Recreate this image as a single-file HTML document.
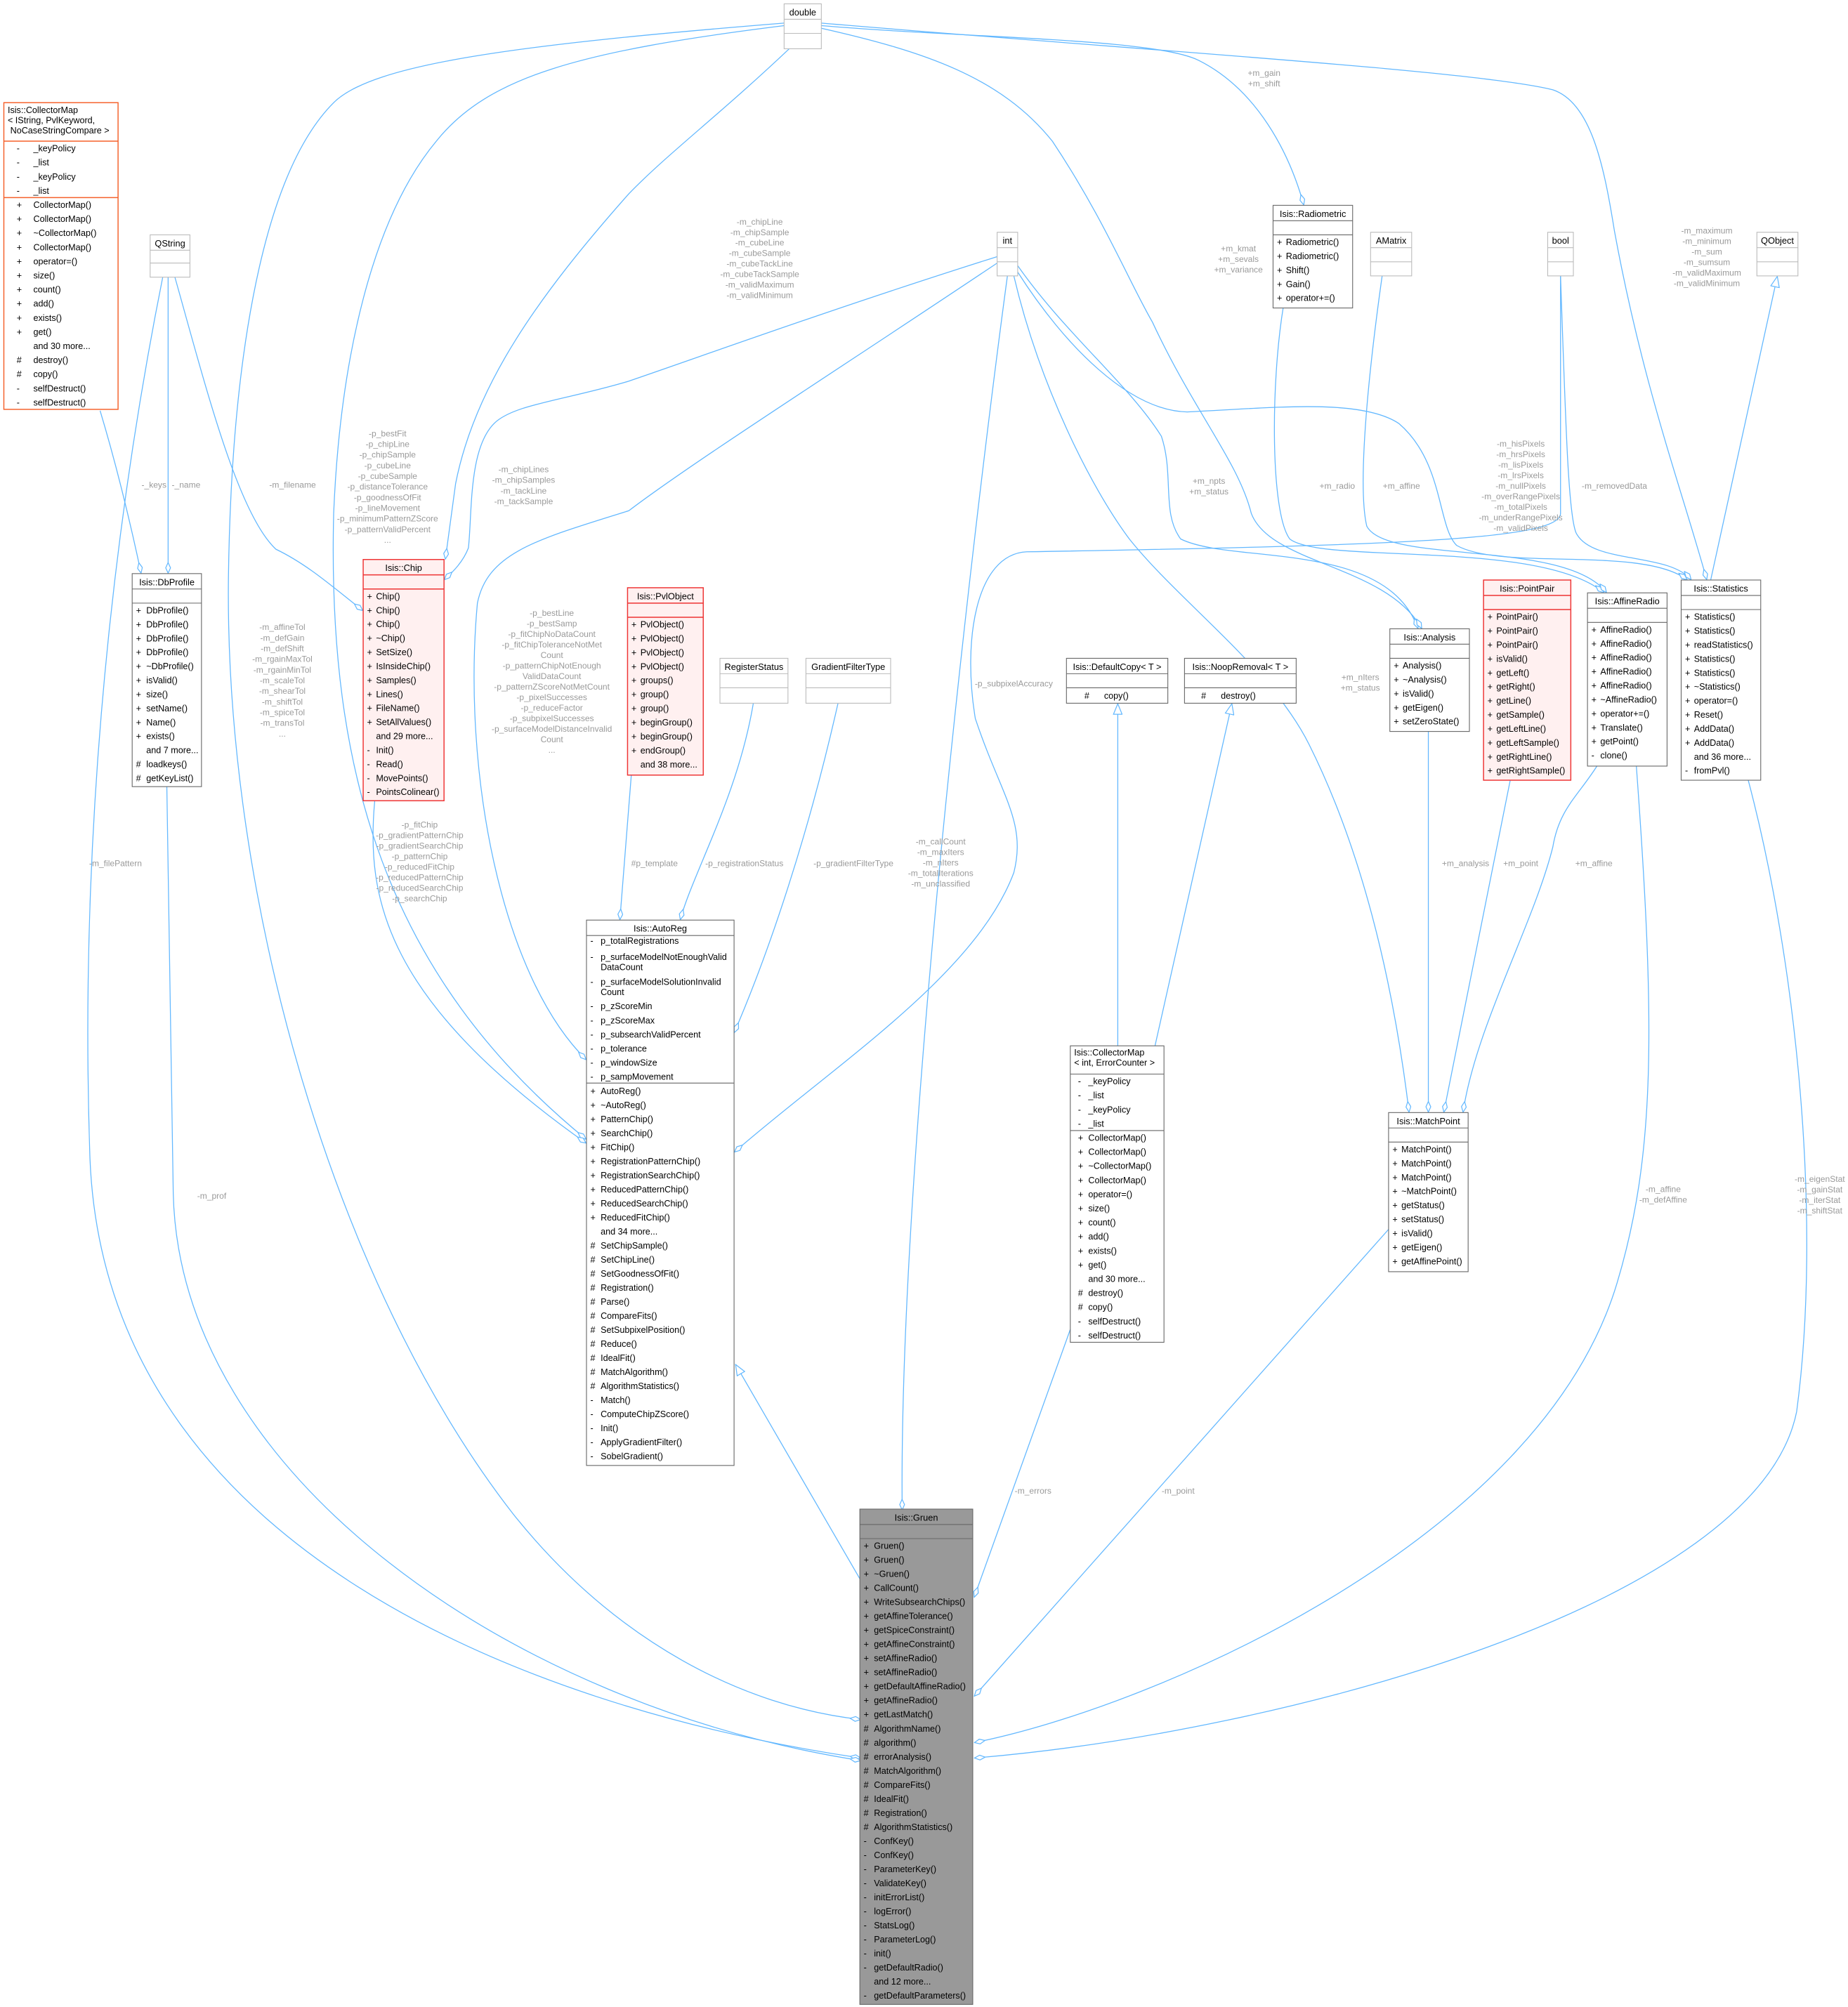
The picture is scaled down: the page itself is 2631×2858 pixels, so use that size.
<!DOCTYPE html>
<html><head><meta charset="utf-8"><style>
html,body{margin:0;padding:0;background:#fff;}
svg{display:block;}
text{font-family:"Liberation Sans",Arial,sans-serif;}
.t{font-size:7px;fill:#000;text-anchor:middle;}
.m{font-size:6.9px;fill:#000;}
.l{font-size:6.6px;fill:#9a9a9a;text-anchor:middle;}
.e{fill:none;stroke:#63b8ff;stroke-width:0.7;}
.b{fill:#fff;stroke:#666;stroke-width:0.6;}
.p{fill:#fff;stroke:#bbb;stroke-width:0.6;}
.r{fill:#fff0f0;stroke:#e33;stroke-width:0.8;}
.o{fill:#fff;stroke:#f5602a;stroke-width:0.8;}
.g{fill:#999;stroke:#666;stroke-width:0.6;}
.s{stroke:#666;stroke-width:0.6;}
.sp{stroke:#bbb;stroke-width:0.6;}
.sr{stroke:#e33;stroke-width:0.8;}
.so{stroke:#f5602a;stroke-width:0.8;}
</style></head><body>
<svg width="2631" height="2858" viewBox="0 0 1440 1564" preserveAspectRatio="none" xmlns="http://www.w3.org/2000/svg">
<defs>
<marker id="d" viewBox="0 0 12 6" refX="12" refY="3" markerWidth="9" markerHeight="4.5" orient="auto" markerUnits="userSpaceOnUse"><path d="M0.5,3 L6,0.5 L11.5,3 L6,5.5 Z" fill="#fff" stroke="#63b8ff" stroke-width="0.9"/></marker>
<marker id="a" viewBox="0 0 12 10" refX="12" refY="5" markerWidth="9" markerHeight="7.5" orient="auto" markerUnits="userSpaceOnUse"><path d="M0.5,0.5 L11.5,5 L0.5,9.5 Z" fill="#fff" stroke="#63b8ff" stroke-width="0.9"/></marker>
</defs>

<!-- edges -->
<g class="e">
<path d="M78,320 C90,360 100,400 110,447" marker-end="url(#d)"/>
<path d="M131,215 L131,447" marker-end="url(#d)"/>
<path d="M136,215 C160,300 185,400 215,428 C240,440 260,458 283,476" marker-end="url(#d)"/>
<path d="M127,215 C100,350 60,600 70,900 C80,1200 400,1330 671,1370" marker-end="url(#d)"/>
<path d="M130,613 L135,930 C140,1150 400,1330 671,1372" marker-end="url(#d)"/>
<path d="M611,18 C400,35 290,50 260,80 C200,140 180,300 178,450 C175,700 260,1000 400,1180 C480,1280 580,1330 671,1340" marker-end="url(#d)"/>
<path d="M611,20 C450,40 380,60 340,110 C290,170 265,280 260,400 C255,600 300,760 457,888" marker-end="url(#d)"/>
<path d="M615,38 C560,90 520,120 490,151 C420,230 370,300 355,377 L347,436" marker-end="url(#d)"/>
<path d="M777,200 C650,240 540,280 490,297 C440,312 400,315 385,330 C365,350 368,400 365,427 C360,440 350,448 346,452" marker-end="url(#d)"/>
<path d="M777,205 C650,290 540,360 490,398 C420,420 380,430 372,470 C360,600 390,760 457,826" marker-end="url(#d)"/>
<path d="M292,624 C285,700 300,780 457,891" marker-end="url(#d)"/>
<path d="M492,603 L483,717" marker-end="url(#d)"/>
<path d="M587,548 C575,620 540,680 530,717" marker-end="url(#d)"/>
<path d="M653,548 C630,650 600,740 572,805" marker-end="url(#d)"/>
<path d="M1216,215 L1216,400 C1216,420 1100,425 800,430 C760,432 750,500 760,560 C780,620 800,640 790,680 C760,760 650,830 572,898" marker-end="url(#d)"/>
<path d="M671,1232 L573,1063" marker-end="url(#a)"/>
<path d="M785,215 C760,400 700,900 703,1177" marker-end="url(#d)"/>
<path d="M834,1036 L759,1245" marker-end="url(#d)"/>
<path d="M1082,958 L759,1322" marker-end="url(#d)"/>
<path d="M1275,596 C1290,800 1290,900 1260,1000 C1200,1200 900,1330 759,1358" marker-end="url(#d)"/>
<path d="M1362,607 C1400,750 1420,950 1400,1100 C1370,1250 1000,1350 759,1370" marker-end="url(#d)"/>
<path d="M871,815 L871,548" marker-end="url(#a)"/>
<path d="M900,815 L960,548" marker-end="url(#a)"/>
<path d="M1113,569 L1113,867" marker-end="url(#d)"/>
<path d="M1177,607 L1125,867" marker-end="url(#d)"/>
<path d="M1245,596 C1230,620 1215,630 1210,660 C1195,720 1150,800 1140,867" marker-end="url(#d)"/>
<path d="M790,215 C810,300 850,380 880,420 C920,470 990,520 1020,580 C1060,660 1085,760 1098,867" marker-end="url(#d)"/>
<path d="M793,207 C830,260 880,300 905,340 C915,370 905,400 920,420 C960,440 1080,420 1105,490" marker-end="url(#d)"/>
<path d="M640,22 C720,40 780,60 820,110 C860,170 880,220 898,251 C930,320 965,360 975,400 C990,440 1080,440 1108,490" marker-end="url(#d)"/>
<path d="M640,20 C760,30 900,30 934,47 C980,70 1005,120 1016,160" marker-end="url(#d)"/>
<path d="M1000,239 C990,300 990,400 1005,420 C1030,440 1200,420 1250,462" marker-end="url(#d)"/>
<path d="M1077,215 C1065,300 1058,380 1065,410 C1080,440 1220,420 1252,462" marker-end="url(#d)"/>
<path d="M793,212 C830,270 880,320 925,321 C990,318 1060,310 1090,330 C1125,360 1120,410 1135,425 C1170,445 1280,425 1315,452" marker-end="url(#d)"/>
<path d="M1216,215 C1220,330 1222,400 1228,415 C1240,440 1300,430 1318,452" marker-end="url(#d)"/>
<path d="M640,18 C900,40 1150,55 1210,70 C1240,80 1250,130 1258,180 C1280,300 1310,380 1330,452" marker-end="url(#d)"/>
<path d="M1333,452 L1385,215" marker-end="url(#a)"/>
</g>

<!-- edge labels -->
<g class="l">
<text x="120" y="380">-_keys</text>
<text x="145" y="380">-_name</text>
<text x="228" y="380">-m_filename</text>
<text x="90" y="675">-m_filePattern</text>
<text x="165" y="934">-m_prof</text>
<text x="220" y="491"><tspan x="220">-m_affineTol</tspan><tspan x="220" dy="8.3">-m_defGain</tspan><tspan x="220" dy="8.3">-m_defShift</tspan><tspan x="220" dy="8.3">-m_rgainMaxTol</tspan><tspan x="220" dy="8.3">-m_rgainMinTol</tspan><tspan x="220" dy="8.3">-m_scaleTol</tspan><tspan x="220" dy="8.3">-m_shearTol</tspan><tspan x="220" dy="8.3">-m_shiftTol</tspan><tspan x="220" dy="8.3">-m_spiceTol</tspan><tspan x="220" dy="8.3">-m_transTol</tspan><tspan x="220" dy="8.3">...</tspan></text>
<text x="302" y="340"><tspan x="302">-p_bestFit</tspan><tspan x="302" dy="8.3">-p_chipLine</tspan><tspan x="302" dy="8.3">-p_chipSample</tspan><tspan x="302" dy="8.3">-p_cubeLine</tspan><tspan x="302" dy="8.3">-p_cubeSample</tspan><tspan x="302" dy="8.3">-p_distanceTolerance</tspan><tspan x="302" dy="8.3">-p_goodnessOfFit</tspan><tspan x="302" dy="8.3">-p_lineMovement</tspan><tspan x="302" dy="8.3">-p_minimumPatternZScore</tspan><tspan x="302" dy="8.3">-p_patternValidPercent</tspan><tspan x="302" dy="8.3">...</tspan></text>
<text x="408" y="368"><tspan x="408">-m_chipLines</tspan><tspan x="408" dy="8.3">-m_chipSamples</tspan><tspan x="408" dy="8.3">-m_tackLine</tspan><tspan x="408" dy="8.3">-m_tackSample</tspan></text>
<text x="430" y="480"><tspan x="430">-p_bestLine</tspan><tspan x="430" dy="8.2">-p_bestSamp</tspan><tspan x="430" dy="8.2">-p_fitChipNoDataCount</tspan><tspan x="430" dy="8.2">-p_fitChipToleranceNotMet</tspan><tspan x="430" dy="8.2">Count</tspan><tspan x="430" dy="8.2">-p_patternChipNotEnough</tspan><tspan x="430" dy="8.2">ValidDataCount</tspan><tspan x="430" dy="8.2">-p_patternZScoreNotMetCount</tspan><tspan x="430" dy="8.2">-p_pixelSuccesses</tspan><tspan x="430" dy="8.2">-p_reduceFactor</tspan><tspan x="430" dy="8.2">-p_subpixelSuccesses</tspan><tspan x="430" dy="8.2">-p_surfaceModelDistanceInvalid</tspan><tspan x="430" dy="8.2">Count</tspan><tspan x="430" dy="8.2">...</tspan></text>
<text x="327" y="645"><tspan x="327">-p_fitChip</tspan><tspan x="327" dy="8.2">-p_gradientPatternChip</tspan><tspan x="327" dy="8.2">-p_gradientSearchChip</tspan><tspan x="327" dy="8.2">-p_patternChip</tspan><tspan x="327" dy="8.2">-p_reducedFitChip</tspan><tspan x="327" dy="8.2">-p_reducedPatternChip</tspan><tspan x="327" dy="8.2">-p_reducedSearchChip</tspan><tspan x="327" dy="8.2">-p_searchChip</tspan></text>
<text x="510" y="675">#p_template</text>
<text x="580" y="675">-p_registrationStatus</text>
<text x="665" y="675">-p_gradientFilterType</text>
<text x="790" y="535">-p_subpixelAccuracy</text>
<text x="733" y="658"><tspan x="733">-m_callCount</tspan><tspan x="733" dy="8.2">-m_maxIters</tspan><tspan x="733" dy="8.2">-m_nIters</tspan><tspan x="733" dy="8.2">-m_totalIterations</tspan><tspan x="733" dy="8.2">-m_unclassified</tspan></text>
<text x="805" y="1164">-m_errors</text>
<text x="918" y="1164">-m_point</text>
<text x="1296" y="929"><tspan x="1296">-m_affine</tspan><tspan x="1296" dy="8.2">-m_defAffine</tspan></text>
<text x="1418" y="921"><tspan x="1418">-m_eigenStat</tspan><tspan x="1418" dy="8.2">-m_gainStat</tspan><tspan x="1418" dy="8.2">-m_iterStat</tspan><tspan x="1418" dy="8.2">-m_shiftStat</tspan></text>
<text x="1142" y="675">+m_analysis</text>
<text x="1185" y="675">+m_point</text>
<text x="1242" y="675">+m_affine</text>
<text x="1060" y="530"><tspan x="1060">+m_nIters</tspan><tspan x="1060" dy="8.2">+m_status</tspan></text>
<text x="942" y="377"><tspan x="942">+m_npts</tspan><tspan x="942" dy="8.2">+m_status</tspan></text>
<text x="965" y="196"><tspan x="965">+m_kmat</tspan><tspan x="965" dy="8.2">+m_sevals</tspan><tspan x="965" dy="8.2">+m_variance</tspan></text>
<text x="985" y="59"><tspan x="985">+m_gain</tspan><tspan x="985" dy="8.2">+m_shift</tspan></text>
<text x="1042" y="381">+m_radio</text>
<text x="1092" y="381">+m_affine</text>
<text x="1185" y="348"><tspan x="1185">-m_hisPixels</tspan><tspan x="1185" dy="8.2">-m_hrsPixels</tspan><tspan x="1185" dy="8.2">-m_lisPixels</tspan><tspan x="1185" dy="8.2">-m_lrsPixels</tspan><tspan x="1185" dy="8.2">-m_nullPixels</tspan><tspan x="1185" dy="8.2">-m_overRangePixels</tspan><tspan x="1185" dy="8.2">-m_totalPixels</tspan><tspan x="1185" dy="8.2">-m_underRangePixels</tspan><tspan x="1185" dy="8.2">-m_validPixels</tspan></text>
<text x="1258" y="381">-m_removedData</text>
<text x="1330" y="182"><tspan x="1330">-m_maximum</tspan><tspan x="1330" dy="8.2">-m_minimum</tspan><tspan x="1330" dy="8.2">-m_sum</tspan><tspan x="1330" dy="8.2">-m_sumsum</tspan><tspan x="1330" dy="8.2">-m_validMaximum</tspan><tspan x="1330" dy="8.2">-m_validMinimum</tspan></text>
<text x="592" y="175"><tspan x="592">-m_chipLine</tspan><tspan x="592" dy="8.2">-m_chipSample</tspan><tspan x="592" dy="8.2">-m_cubeLine</tspan><tspan x="592" dy="8.2">-m_cubeSample</tspan><tspan x="592" dy="8.2">-m_cubeTackLine</tspan><tspan x="592" dy="8.2">-m_cubeTackSample</tspan><tspan x="592" dy="8.2">-m_validMaximum</tspan><tspan x="592" dy="8.2">-m_validMinimum</tspan></text>
</g>

<!-- primitive boxes -->
<g>
<rect class="p" x="611" y="3" width="29" height="35"/><line class="sp" x1="611" y1="15" x2="640" y2="15"/><line class="sp" x1="611" y1="26" x2="640" y2="26"/><text class="t" x="625.5" y="12">double</text>
<rect class="p" x="117" y="183" width="31" height="33"/><line class="sp" x1="117" y1="195" x2="148" y2="195"/><line class="sp" x1="117" y1="205" x2="148" y2="205"/><text class="t" x="132.5" y="192">QString</text>
<rect class="p" x="777" y="181" width="16" height="34"/><line class="sp" x1="777" y1="193" x2="793" y2="193"/><line class="sp" x1="777" y1="204" x2="793" y2="204"/><text class="t" x="785" y="190">int</text>
<rect class="p" x="1068" y="181" width="32" height="34"/><line class="sp" x1="1068" y1="193" x2="1100" y2="193"/><line class="sp" x1="1068" y1="204" x2="1100" y2="204"/><text class="t" x="1084" y="190">AMatrix</text>
<rect class="p" x="1206" y="181" width="20" height="34"/><line class="sp" x1="1206" y1="193" x2="1226" y2="193"/><line class="sp" x1="1206" y1="204" x2="1226" y2="204"/><text class="t" x="1216" y="190">bool</text>
<rect class="p" x="1369" y="181" width="32" height="34"/><line class="sp" x1="1369" y1="193" x2="1401" y2="193"/><line class="sp" x1="1369" y1="204" x2="1401" y2="204"/><text class="t" x="1385" y="190">QObject</text>
<rect class="p" x="561" y="513" width="53" height="35"/><line class="sp" x1="561" y1="525" x2="614" y2="525"/><line class="sp" x1="561" y1="536" x2="614" y2="536"/><text class="t" x="587.5" y="522">RegisterStatus</text>
<rect class="p" x="628" y="513" width="66" height="35"/><line class="sp" x1="628" y1="525" x2="694" y2="525"/><line class="sp" x1="628" y1="536" x2="694" y2="536"/><text class="t" x="661" y="522">GradientFilterType</text>
</g>

<!-- DefaultCopy / NoopRemoval -->
<rect class="b" x="831" y="513" width="79" height="35"/><line class="s" x1="831" y1="525" x2="910" y2="525"/><line class="s" x1="831" y1="536" x2="910" y2="536"/><text class="t" x="870.5" y="522">Isis::DefaultCopy&lt; T &gt;</text><text class="m" x="845" y="544.5">#&#160;&#160;&#160;&#160;&#160;&#160;copy()</text>
<rect class="b" x="923" y="513" width="87" height="35"/><line class="s" x1="923" y1="525" x2="1010" y2="525"/><line class="s" x1="923" y1="536" x2="1010" y2="536"/><text class="t" x="966.5" y="522">Isis::NoopRemoval&lt; T &gt;</text><text class="m" x="936" y="544.5">#&#160;&#160;&#160;&#160;&#160;&#160;destroy()</text>

<!-- CollectorMap 1 -->
<rect class="o" x="3" y="80" width="89" height="239"/>
<line class="so" x1="3" y1="110" x2="92" y2="110"/><line class="so" x1="3" y1="154" x2="92" y2="154"/>
<text class="m" x="6" y="88"><tspan x="6">Isis::CollectorMap</tspan><tspan x="6" dy="8">&lt; IString, PvlKeyword,</tspan><tspan x="8" dy="8">NoCaseStringCompare &gt;</tspan></text>
<text class="m" y="107"><tspan x="13" dy="11">-</tspan><tspan x="13" dy="11">-</tspan><tspan x="13" dy="11">-</tspan><tspan x="13" dy="11">-</tspan><tspan x="13" dy="11">+</tspan><tspan x="13" dy="11">+</tspan><tspan x="13" dy="11">+</tspan><tspan x="13" dy="11">+</tspan><tspan x="13" dy="11">+</tspan><tspan x="13" dy="11">+</tspan><tspan x="13" dy="11">+</tspan><tspan x="13" dy="11">+</tspan><tspan x="13" dy="11">+</tspan><tspan x="13" dy="11">+</tspan><tspan x="13" dy="11">&#160;</tspan><tspan x="13" dy="11">#</tspan><tspan x="13" dy="11">#</tspan><tspan x="13" dy="11">-</tspan><tspan x="13" dy="11">-</tspan></text>
<text class="m" y="107"><tspan x="26" dy="11">_keyPolicy</tspan><tspan x="26" dy="11">_list</tspan><tspan x="26" dy="11">_keyPolicy</tspan><tspan x="26" dy="11">_list</tspan><tspan x="26" dy="11">CollectorMap()</tspan><tspan x="26" dy="11">CollectorMap()</tspan><tspan x="26" dy="11">~CollectorMap()</tspan><tspan x="26" dy="11">CollectorMap()</tspan><tspan x="26" dy="11">operator=()</tspan><tspan x="26" dy="11">size()</tspan><tspan x="26" dy="11">count()</tspan><tspan x="26" dy="11">add()</tspan><tspan x="26" dy="11">exists()</tspan><tspan x="26" dy="11">get()</tspan><tspan x="26" dy="11">and 30 more...</tspan><tspan x="26" dy="11">destroy()</tspan><tspan x="26" dy="11">copy()</tspan><tspan x="26" dy="11">selfDestruct()</tspan><tspan x="26" dy="11">selfDestruct()</tspan></text>

<!-- DbProfile -->
<rect class="b" x="103" y="447" width="54" height="166"/><line class="s" x1="103" y1="459" x2="157" y2="459"/><line class="s" x1="103" y1="470" x2="157" y2="470"/>
<text class="t" x="130" y="456">Isis::DbProfile</text>
<text class="m" y="467.1"><tspan x="106" dy="10.9">+</tspan><tspan x="106" dy="10.9">+</tspan><tspan x="106" dy="10.9">+</tspan><tspan x="106" dy="10.9">+</tspan><tspan x="106" dy="10.9">+</tspan><tspan x="106" dy="10.9">+</tspan><tspan x="106" dy="10.9">+</tspan><tspan x="106" dy="10.9">+</tspan><tspan x="106" dy="10.9">+</tspan><tspan x="106" dy="10.9">+</tspan><tspan x="106" dy="10.9">&#160;</tspan><tspan x="106" dy="10.9">#</tspan><tspan x="106" dy="10.9">#</tspan></text>
<text class="m" y="467.1"><tspan x="114" dy="10.9">DbProfile()</tspan><tspan x="114" dy="10.9">DbProfile()</tspan><tspan x="114" dy="10.9">DbProfile()</tspan><tspan x="114" dy="10.9">DbProfile()</tspan><tspan x="114" dy="10.9">~DbProfile()</tspan><tspan x="114" dy="10.9">isValid()</tspan><tspan x="114" dy="10.9">size()</tspan><tspan x="114" dy="10.9">setName()</tspan><tspan x="114" dy="10.9">Name()</tspan><tspan x="114" dy="10.9">exists()</tspan><tspan x="114" dy="10.9">and 7 more...</tspan><tspan x="114" dy="10.9">loadkeys()</tspan><tspan x="114" dy="10.9">getKeyList()</tspan></text>

<!-- Chip -->
<rect class="r" x="283" y="436" width="63" height="188"/><line class="sr" x1="283" y1="448" x2="346" y2="448"/><line class="sr" x1="283" y1="459" x2="346" y2="459"/>
<text class="t" x="314.5" y="445">Isis::Chip</text>
<text class="m" y="456.1"><tspan x="286" dy="10.9">+</tspan><tspan x="286" dy="10.9">+</tspan><tspan x="286" dy="10.9">+</tspan><tspan x="286" dy="10.9">+</tspan><tspan x="286" dy="10.9">+</tspan><tspan x="286" dy="10.9">+</tspan><tspan x="286" dy="10.9">+</tspan><tspan x="286" dy="10.9">+</tspan><tspan x="286" dy="10.9">+</tspan><tspan x="286" dy="10.9">+</tspan><tspan x="286" dy="10.9">&#160;</tspan><tspan x="286" dy="10.9">-</tspan><tspan x="286" dy="10.9">-</tspan><tspan x="286" dy="10.9">-</tspan><tspan x="286" dy="10.9">-</tspan></text>
<text class="m" y="456.1"><tspan x="293" dy="10.9">Chip()</tspan><tspan x="293" dy="10.9">Chip()</tspan><tspan x="293" dy="10.9">Chip()</tspan><tspan x="293" dy="10.9">~Chip()</tspan><tspan x="293" dy="10.9">SetSize()</tspan><tspan x="293" dy="10.9">IsInsideChip()</tspan><tspan x="293" dy="10.9">Samples()</tspan><tspan x="293" dy="10.9">Lines()</tspan><tspan x="293" dy="10.9">FileName()</tspan><tspan x="293" dy="10.9">SetAllValues()</tspan><tspan x="293" dy="10.9">and 29 more...</tspan><tspan x="293" dy="10.9">Init()</tspan><tspan x="293" dy="10.9">Read()</tspan><tspan x="293" dy="10.9">MovePoints()</tspan><tspan x="293" dy="10.9">PointsColinear()</tspan></text>

<!-- PvlObject -->
<rect class="r" x="489" y="458" width="59" height="146"/><line class="sr" x1="489" y1="470" x2="548" y2="470"/><line class="sr" x1="489" y1="481" x2="548" y2="481"/>
<text class="t" x="518.5" y="467">Isis::PvlObject</text>
<text class="m" y="478.1"><tspan x="492" dy="10.9">+</tspan><tspan x="492" dy="10.9">+</tspan><tspan x="492" dy="10.9">+</tspan><tspan x="492" dy="10.9">+</tspan><tspan x="492" dy="10.9">+</tspan><tspan x="492" dy="10.9">+</tspan><tspan x="492" dy="10.9">+</tspan><tspan x="492" dy="10.9">+</tspan><tspan x="492" dy="10.9">+</tspan><tspan x="492" dy="10.9">+</tspan></text>
<text class="m" y="478.1"><tspan x="499" dy="10.9">PvlObject()</tspan><tspan x="499" dy="10.9">PvlObject()</tspan><tspan x="499" dy="10.9">PvlObject()</tspan><tspan x="499" dy="10.9">PvlObject()</tspan><tspan x="499" dy="10.9">groups()</tspan><tspan x="499" dy="10.9">group()</tspan><tspan x="499" dy="10.9">group()</tspan><tspan x="499" dy="10.9">beginGroup()</tspan><tspan x="499" dy="10.9">beginGroup()</tspan><tspan x="499" dy="10.9">endGroup()</tspan><tspan x="499" dy="10.9">and 38 more...</tspan></text>

<!-- Radiometric -->
<rect class="b" x="992" y="160" width="62" height="80"/><line class="s" x1="992" y1="172" x2="1054" y2="172"/><line class="s" x1="992" y1="183" x2="1054" y2="183"/>
<text class="t" x="1023" y="169">Isis::Radiometric</text>
<text class="m" y="180.1"><tspan x="995" dy="10.9">+</tspan><tspan x="995" dy="10.9">+</tspan><tspan x="995" dy="10.9">+</tspan><tspan x="995" dy="10.9">+</tspan><tspan x="995" dy="10.9">+</tspan></text>
<text class="m" y="180.1"><tspan x="1002" dy="10.9">Radiometric()</tspan><tspan x="1002" dy="10.9">Radiometric()</tspan><tspan x="1002" dy="10.9">Shift()</tspan><tspan x="1002" dy="10.9">Gain()</tspan><tspan x="1002" dy="10.9">operator+=()</tspan></text>

<!-- Analysis -->
<rect class="b" x="1083" y="490" width="62" height="80"/><line class="s" x1="1083" y1="502" x2="1145" y2="502"/><line class="s" x1="1083" y1="513" x2="1145" y2="513"/>
<text class="t" x="1114" y="499">Isis::Analysis</text>
<text class="m" y="510.1"><tspan x="1086" dy="10.9">+</tspan><tspan x="1086" dy="10.9">+</tspan><tspan x="1086" dy="10.9">+</tspan><tspan x="1086" dy="10.9">+</tspan><tspan x="1086" dy="10.9">+</tspan></text>
<text class="m" y="510.1"><tspan x="1093" dy="10.9">Analysis()</tspan><tspan x="1093" dy="10.9">~Analysis()</tspan><tspan x="1093" dy="10.9">isValid()</tspan><tspan x="1093" dy="10.9">getEigen()</tspan><tspan x="1093" dy="10.9">setZeroState()</tspan></text>

<!-- PointPair -->
<rect class="r" x="1156" y="452" width="68" height="156"/><line class="sr" x1="1156" y1="464" x2="1224" y2="464"/><line class="sr" x1="1156" y1="475" x2="1224" y2="475"/>
<text class="t" x="1190" y="461">Isis::PointPair</text>
<text class="m" y="472.1"><tspan x="1159" dy="10.9">+</tspan><tspan x="1159" dy="10.9">+</tspan><tspan x="1159" dy="10.9">+</tspan><tspan x="1159" dy="10.9">+</tspan><tspan x="1159" dy="10.9">+</tspan><tspan x="1159" dy="10.9">+</tspan><tspan x="1159" dy="10.9">+</tspan><tspan x="1159" dy="10.9">+</tspan><tspan x="1159" dy="10.9">+</tspan><tspan x="1159" dy="10.9">+</tspan><tspan x="1159" dy="10.9">+</tspan><tspan x="1159" dy="10.9">+</tspan></text>
<text class="m" y="472.1"><tspan x="1166" dy="10.9">PointPair()</tspan><tspan x="1166" dy="10.9">PointPair()</tspan><tspan x="1166" dy="10.9">PointPair()</tspan><tspan x="1166" dy="10.9">isValid()</tspan><tspan x="1166" dy="10.9">getLeft()</tspan><tspan x="1166" dy="10.9">getRight()</tspan><tspan x="1166" dy="10.9">getLine()</tspan><tspan x="1166" dy="10.9">getSample()</tspan><tspan x="1166" dy="10.9">getLeftLine()</tspan><tspan x="1166" dy="10.9">getLeftSample()</tspan><tspan x="1166" dy="10.9">getRightLine()</tspan><tspan x="1166" dy="10.9">getRightSample()</tspan></text>

<!-- AffineRadio -->
<rect class="b" x="1237" y="462" width="62" height="135"/><line class="s" x1="1237" y1="474" x2="1299" y2="474"/><line class="s" x1="1237" y1="485" x2="1299" y2="485"/>
<text class="t" x="1268" y="471">Isis::AffineRadio</text>
<text class="m" y="482.1"><tspan x="1240" dy="10.9">+</tspan><tspan x="1240" dy="10.9">+</tspan><tspan x="1240" dy="10.9">+</tspan><tspan x="1240" dy="10.9">+</tspan><tspan x="1240" dy="10.9">+</tspan><tspan x="1240" dy="10.9">+</tspan><tspan x="1240" dy="10.9">+</tspan><tspan x="1240" dy="10.9">+</tspan><tspan x="1240" dy="10.9">+</tspan><tspan x="1240" dy="10.9">-</tspan></text>
<text class="m" y="482.1"><tspan x="1247" dy="10.9">AffineRadio()</tspan><tspan x="1247" dy="10.9">AffineRadio()</tspan><tspan x="1247" dy="10.9">AffineRadio()</tspan><tspan x="1247" dy="10.9">AffineRadio()</tspan><tspan x="1247" dy="10.9">AffineRadio()</tspan><tspan x="1247" dy="10.9">~AffineRadio()</tspan><tspan x="1247" dy="10.9">operator+=()</tspan><tspan x="1247" dy="10.9">Translate()</tspan><tspan x="1247" dy="10.9">getPoint()</tspan><tspan x="1247" dy="10.9">clone()</tspan></text>

<!-- Statistics -->
<rect class="b" x="1310" y="452" width="62" height="156"/><line class="s" x1="1310" y1="464" x2="1372" y2="464"/><line class="s" x1="1310" y1="475" x2="1372" y2="475"/>
<text class="t" x="1341" y="461">Isis::Statistics</text>
<text class="m" y="472.1"><tspan x="1313" dy="10.9">+</tspan><tspan x="1313" dy="10.9">+</tspan><tspan x="1313" dy="10.9">+</tspan><tspan x="1313" dy="10.9">+</tspan><tspan x="1313" dy="10.9">+</tspan><tspan x="1313" dy="10.9">+</tspan><tspan x="1313" dy="10.9">+</tspan><tspan x="1313" dy="10.9">+</tspan><tspan x="1313" dy="10.9">+</tspan><tspan x="1313" dy="10.9">+</tspan><tspan x="1313" dy="10.9">&#160;</tspan><tspan x="1313" dy="10.9">-</tspan></text>
<text class="m" y="472.1"><tspan x="1320" dy="10.9">Statistics()</tspan><tspan x="1320" dy="10.9">Statistics()</tspan><tspan x="1320" dy="10.9">readStatistics()</tspan><tspan x="1320" dy="10.9">Statistics()</tspan><tspan x="1320" dy="10.9">Statistics()</tspan><tspan x="1320" dy="10.9">~Statistics()</tspan><tspan x="1320" dy="10.9">operator=()</tspan><tspan x="1320" dy="10.9">Reset()</tspan><tspan x="1320" dy="10.9">AddData()</tspan><tspan x="1320" dy="10.9">AddData()</tspan><tspan x="1320" dy="10.9">and 36 more...</tspan><tspan x="1320" dy="10.9">fromPvl()</tspan></text>

<!-- MatchPoint -->
<rect class="b" x="1082" y="867" width="62" height="124"/><line class="s" x1="1082" y1="879" x2="1144" y2="879"/><line class="s" x1="1082" y1="890" x2="1144" y2="890"/>
<text class="t" x="1113" y="876">Isis::MatchPoint</text>
<text class="m" y="887.1"><tspan x="1085" dy="10.9">+</tspan><tspan x="1085" dy="10.9">+</tspan><tspan x="1085" dy="10.9">+</tspan><tspan x="1085" dy="10.9">+</tspan><tspan x="1085" dy="10.9">+</tspan><tspan x="1085" dy="10.9">+</tspan><tspan x="1085" dy="10.9">+</tspan><tspan x="1085" dy="10.9">+</tspan><tspan x="1085" dy="10.9">+</tspan></text>
<text class="m" y="887.1"><tspan x="1092" dy="10.9">MatchPoint()</tspan><tspan x="1092" dy="10.9">MatchPoint()</tspan><tspan x="1092" dy="10.9">MatchPoint()</tspan><tspan x="1092" dy="10.9">~MatchPoint()</tspan><tspan x="1092" dy="10.9">getStatus()</tspan><tspan x="1092" dy="10.9">setStatus()</tspan><tspan x="1092" dy="10.9">isValid()</tspan><tspan x="1092" dy="10.9">getEigen()</tspan><tspan x="1092" dy="10.9">getAffinePoint()</tspan></text>

<!-- CollectorMap 2 -->
<rect class="b" x="834" y="815" width="73" height="231"/><line class="s" x1="834" y1="837" x2="907" y2="837"/><line class="s" x1="834" y1="881" x2="907" y2="881"/>
<text class="m" x="837" y="822.5"><tspan x="837">Isis::CollectorMap</tspan><tspan x="837" dy="8">&lt; int, ErrorCounter &gt;</tspan></text>
<text class="m" y="834"><tspan x="840" dy="11">-</tspan><tspan x="840" dy="11">-</tspan><tspan x="840" dy="11">-</tspan><tspan x="840" dy="11">-</tspan><tspan x="840" dy="11">+</tspan><tspan x="840" dy="11">+</tspan><tspan x="840" dy="11">+</tspan><tspan x="840" dy="11">+</tspan><tspan x="840" dy="11">+</tspan><tspan x="840" dy="11">+</tspan><tspan x="840" dy="11">+</tspan><tspan x="840" dy="11">+</tspan><tspan x="840" dy="11">+</tspan><tspan x="840" dy="11">+</tspan><tspan x="840" dy="11">&#160;</tspan><tspan x="840" dy="11">#</tspan><tspan x="840" dy="11">#</tspan><tspan x="840" dy="11">-</tspan><tspan x="840" dy="11">-</tspan></text>
<text class="m" y="834"><tspan x="848" dy="11">_keyPolicy</tspan><tspan x="848" dy="11">_list</tspan><tspan x="848" dy="11">_keyPolicy</tspan><tspan x="848" dy="11">_list</tspan><tspan x="848" dy="11">CollectorMap()</tspan><tspan x="848" dy="11">CollectorMap()</tspan><tspan x="848" dy="11">~CollectorMap()</tspan><tspan x="848" dy="11">CollectorMap()</tspan><tspan x="848" dy="11">operator=()</tspan><tspan x="848" dy="11">size()</tspan><tspan x="848" dy="11">count()</tspan><tspan x="848" dy="11">add()</tspan><tspan x="848" dy="11">exists()</tspan><tspan x="848" dy="11">get()</tspan><tspan x="848" dy="11">and 30 more...</tspan><tspan x="848" dy="11">destroy()</tspan><tspan x="848" dy="11">copy()</tspan><tspan x="848" dy="11">selfDestruct()</tspan><tspan x="848" dy="11">selfDestruct()</tspan></text>

<!-- AutoReg -->
<rect class="b" x="457" y="717" width="115" height="425"/><line class="s" x1="457" y1="729" x2="572" y2="729"/><line class="s" x1="457" y1="844" x2="572" y2="844"/>
<text class="t" x="514.5" y="726">Isis::AutoReg</text>
<text class="m"><tspan x="460" y="735.5">-</tspan><tspan x="460" y="748">-</tspan><tspan x="460" y="767.5">-</tspan><tspan x="460" y="786.5">-</tspan><tspan x="460" y="797.5">-</tspan><tspan x="460" y="808.5">-</tspan><tspan x="460" y="819.5">-</tspan><tspan x="460" y="830.5">-</tspan><tspan x="460" y="841.5">-</tspan></text>
<text class="m"><tspan x="468" y="735.5">p_totalRegistrations</tspan><tspan x="468" y="748">p_surfaceModelNotEnoughValid</tspan><tspan x="468" y="756">DataCount</tspan><tspan x="468" y="767.5">p_surfaceModelSolutionInvalid</tspan><tspan x="468" y="775.5">Count</tspan><tspan x="468" y="786.5">p_zScoreMin</tspan><tspan x="468" y="797.5">p_zScoreMax</tspan><tspan x="468" y="808.5">p_subsearchValidPercent</tspan><tspan x="468" y="819.5">p_tolerance</tspan><tspan x="468" y="830.5">p_windowSize</tspan><tspan x="468" y="841.5">p_sampMovement</tspan></text>
<text class="m" y="841.55"><tspan x="460" dy="10.95">+</tspan><tspan x="460" dy="10.95">+</tspan><tspan x="460" dy="10.95">+</tspan><tspan x="460" dy="10.95">+</tspan><tspan x="460" dy="10.95">+</tspan><tspan x="460" dy="10.95">+</tspan><tspan x="460" dy="10.95">+</tspan><tspan x="460" dy="10.95">+</tspan><tspan x="460" dy="10.95">+</tspan><tspan x="460" dy="10.95">+</tspan><tspan x="460" dy="10.95">&#160;</tspan><tspan x="460" dy="10.95">#</tspan><tspan x="460" dy="10.95">#</tspan><tspan x="460" dy="10.95">#</tspan><tspan x="460" dy="10.95">#</tspan><tspan x="460" dy="10.95">#</tspan><tspan x="460" dy="10.95">#</tspan><tspan x="460" dy="10.95">#</tspan><tspan x="460" dy="10.95">#</tspan><tspan x="460" dy="10.95">#</tspan><tspan x="460" dy="10.95">#</tspan><tspan x="460" dy="10.95">#</tspan><tspan x="460" dy="10.95">-</tspan><tspan x="460" dy="10.95">-</tspan><tspan x="460" dy="10.95">-</tspan><tspan x="460" dy="10.95">-</tspan><tspan x="460" dy="10.95">-</tspan></text>
<text class="m" y="841.55"><tspan x="468" dy="10.95">AutoReg()</tspan><tspan x="468" dy="10.95">~AutoReg()</tspan><tspan x="468" dy="10.95">PatternChip()</tspan><tspan x="468" dy="10.95">SearchChip()</tspan><tspan x="468" dy="10.95">FitChip()</tspan><tspan x="468" dy="10.95">RegistrationPatternChip()</tspan><tspan x="468" dy="10.95">RegistrationSearchChip()</tspan><tspan x="468" dy="10.95">ReducedPatternChip()</tspan><tspan x="468" dy="10.95">ReducedSearchChip()</tspan><tspan x="468" dy="10.95">ReducedFitChip()</tspan><tspan x="468" dy="10.95">and 34 more...</tspan><tspan x="468" dy="10.95">SetChipSample()</tspan><tspan x="468" dy="10.95">SetChipLine()</tspan><tspan x="468" dy="10.95">SetGoodnessOfFit()</tspan><tspan x="468" dy="10.95">Registration()</tspan><tspan x="468" dy="10.95">Parse()</tspan><tspan x="468" dy="10.95">CompareFits()</tspan><tspan x="468" dy="10.95">SetSubpixelPosition()</tspan><tspan x="468" dy="10.95">Reduce()</tspan><tspan x="468" dy="10.95">IdealFit()</tspan><tspan x="468" dy="10.95">MatchAlgorithm()</tspan><tspan x="468" dy="10.95">AlgorithmStatistics()</tspan><tspan x="468" dy="10.95">Match()</tspan><tspan x="468" dy="10.95">ComputeChipZScore()</tspan><tspan x="468" dy="10.95">Init()</tspan><tspan x="468" dy="10.95">ApplyGradientFilter()</tspan><tspan x="468" dy="10.95">SobelGradient()</tspan></text>

<!-- Gruen -->
<rect class="g" x="670" y="1176" width="88" height="386"/><line class="s" x1="670" y1="1188" x2="758" y2="1188"/><line class="s" x1="670" y1="1199" x2="758" y2="1199"/>
<text class="t" x="714" y="1185">Isis::Gruen</text>
<text class="m" y="1196.05"><tspan x="673" dy="10.95">+</tspan><tspan x="673" dy="10.95">+</tspan><tspan x="673" dy="10.95">+</tspan><tspan x="673" dy="10.95">+</tspan><tspan x="673" dy="10.95">+</tspan><tspan x="673" dy="10.95">+</tspan><tspan x="673" dy="10.95">+</tspan><tspan x="673" dy="10.95">+</tspan><tspan x="673" dy="10.95">+</tspan><tspan x="673" dy="10.95">+</tspan><tspan x="673" dy="10.95">+</tspan><tspan x="673" dy="10.95">+</tspan><tspan x="673" dy="10.95">+</tspan><tspan x="673" dy="10.95">#</tspan><tspan x="673" dy="10.95">#</tspan><tspan x="673" dy="10.95">#</tspan><tspan x="673" dy="10.95">#</tspan><tspan x="673" dy="10.95">#</tspan><tspan x="673" dy="10.95">#</tspan><tspan x="673" dy="10.95">#</tspan><tspan x="673" dy="10.95">#</tspan><tspan x="673" dy="10.95">-</tspan><tspan x="673" dy="10.95">-</tspan><tspan x="673" dy="10.95">-</tspan><tspan x="673" dy="10.95">-</tspan><tspan x="673" dy="10.95">-</tspan><tspan x="673" dy="10.95">-</tspan><tspan x="673" dy="10.95">-</tspan><tspan x="673" dy="10.95">-</tspan><tspan x="673" dy="10.95">-</tspan><tspan x="673" dy="10.95">-</tspan><tspan x="673" dy="10.95">&#160;</tspan><tspan x="673" dy="10.95">-</tspan></text>
<text class="m" y="1196.05"><tspan x="681" dy="10.95">Gruen()</tspan><tspan x="681" dy="10.95">Gruen()</tspan><tspan x="681" dy="10.95">~Gruen()</tspan><tspan x="681" dy="10.95">CallCount()</tspan><tspan x="681" dy="10.95">WriteSubsearchChips()</tspan><tspan x="681" dy="10.95">getAffineTolerance()</tspan><tspan x="681" dy="10.95">getSpiceConstraint()</tspan><tspan x="681" dy="10.95">getAffineConstraint()</tspan><tspan x="681" dy="10.95">setAffineRadio()</tspan><tspan x="681" dy="10.95">setAffineRadio()</tspan><tspan x="681" dy="10.95">getDefaultAffineRadio()</tspan><tspan x="681" dy="10.95">getAffineRadio()</tspan><tspan x="681" dy="10.95">getLastMatch()</tspan><tspan x="681" dy="10.95">AlgorithmName()</tspan><tspan x="681" dy="10.95">algorithm()</tspan><tspan x="681" dy="10.95">errorAnalysis()</tspan><tspan x="681" dy="10.95">MatchAlgorithm()</tspan><tspan x="681" dy="10.95">CompareFits()</tspan><tspan x="681" dy="10.95">IdealFit()</tspan><tspan x="681" dy="10.95">Registration()</tspan><tspan x="681" dy="10.95">AlgorithmStatistics()</tspan><tspan x="681" dy="10.95">ConfKey()</tspan><tspan x="681" dy="10.95">ConfKey()</tspan><tspan x="681" dy="10.95">ParameterKey()</tspan><tspan x="681" dy="10.95">ValidateKey()</tspan><tspan x="681" dy="10.95">initErrorList()</tspan><tspan x="681" dy="10.95">logError()</tspan><tspan x="681" dy="10.95">StatsLog()</tspan><tspan x="681" dy="10.95">ParameterLog()</tspan><tspan x="681" dy="10.95">init()</tspan><tspan x="681" dy="10.95">getDefaultRadio()</tspan><tspan x="681" dy="10.95">and 12 more...</tspan><tspan x="681" dy="10.95">getDefaultParameters()</tspan></text>
</svg>
</body></html>
